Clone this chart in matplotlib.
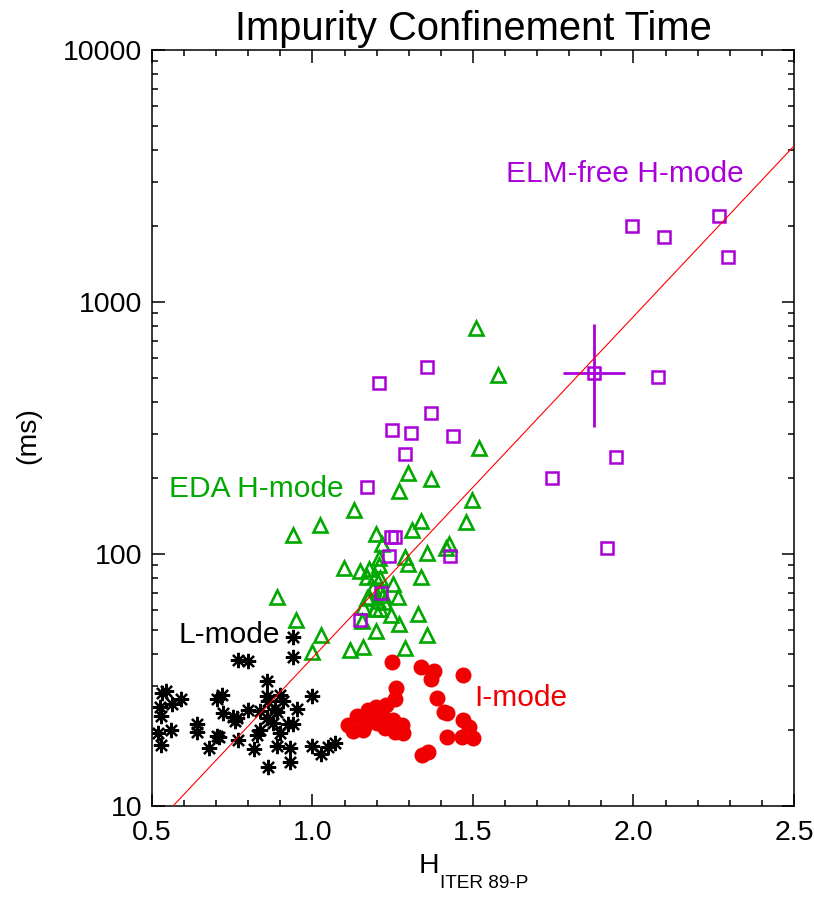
import numpy as np
import matplotlib.pyplot as plt
from matplotlib.ticker import (FixedLocator, FixedFormatter, MultipleLocator,
                               LogLocator, NullFormatter, FormatStrFormatter)

plt.rcParams['font.family'] = ['Liberation Sans', 'DejaVu Sans']

# L-mode (black asterisks)
lmode_h = [0.938, 0.938, 0.769, 0.800, 0.859, 0.530, 0.543, 0.589, 0.561, 0.702,
           0.719, 0.525, 0.527, 0.859, 0.862, 0.899, 0.909, 0.997, 0.722, 0.753,
           0.764, 0.759, 0.800, 0.836, 0.883, 0.888, 0.951, 0.857, 0.878, 0.925,
           0.940, 0.639, 0.639, 0.520, 0.558, 0.836, 0.826, 0.899, 0.702, 0.709,
           0.769, 0.528, 0.679, 0.819, 0.888, 0.930, 0.997, 1.026, 1.049, 1.070,
           0.860, 0.930]
lmode_tau = [46.7, 39.1, 38.0, 37.7, 31.4, 28.0, 28.6, 26.6, 25.4, 26.6,
             27.6, 24.6, 22.8, 27.2, 26.1, 27.6, 26.2, 27.4, 23.3, 22.5,
             22.3, 21.8, 24.0, 23.9, 24.2, 23.6, 24.2, 22.3, 21.3, 21.2,
             21.2, 21.2, 19.7, 19.4, 20.0, 20.0, 19.1, 19.5, 19.0, 18.7,
             18.3, 17.5, 17.0, 16.8, 17.3, 17.0, 17.3, 16.1, 17.1, 17.7,
             14.3, 15.0]

# EDA H-mode (green triangles)
eda_h = [1.508, 1.578, 1.519, 1.368, 1.298, 1.269, 1.498, 1.129, 1.022, 0.938,
         1.338, 1.309, 1.477, 1.198, 1.218, 1.426, 1.417, 1.358, 1.288, 1.298,
         1.208, 1.207, 1.098, 1.147, 1.176, 1.169, 1.195, 1.210, 1.338, 1.250,
         1.189, 1.210, 1.221, 1.177, 1.169, 1.267, 1.205, 1.223, 1.158, 1.195,
         1.210, 1.245, 1.328, 1.155, 1.269, 1.197, 1.358, 1.027, 1.118, 1.158,
         1.288, 0.998, 0.888, 0.949]
eda_tau = [786, 513, 263, 198, 209, 177, 164, 149, 130, 119,
           135, 124, 134, 119.5, 110, 110, 106, 101, 97.3, 90.9,
           96.1, 90.4, 88.0, 85.4, 87.0, 81.3, 81.8, 80.1, 80.7, 75.9,
           73.1, 70.9, 68.8, 67.7, 66.7, 67.3, 65.3, 64.7, 61.4, 60.3,
           60.3, 57.3, 57.8, 54.4, 52.7, 49.3, 47.9, 47.6, 41.6, 42.9,
           42.3, 40.7, 67.7, 54.7]

# ELM-free H-mode (purple squares)
elmfree_h = [1.996, 2.095, 2.265, 2.295, 1.877, 2.076, 1.358, 1.208, 1.368, 1.249,
             1.308, 1.438, 1.288, 1.169, 1.747, 1.946, 1.917, 1.244, 1.256, 1.238,
             1.428, 1.213, 1.148]
elmfree_tau = [2002, 1806, 2200, 1504, 521, 502, 551, 476, 364, 311,
               301, 294, 249, 185, 200, 243, 106, 117, 117, 98.2,
               98.2, 70.2, 54.7]

# I-mode (red filled circles)
imode_h = [1.249, 1.338, 1.379, 1.369, 1.468, 1.259, 1.257, 1.387, 1.229, 1.198,
           1.174, 1.410, 1.420, 1.138, 1.112, 1.127, 1.158, 1.200, 1.231, 1.252,
           1.278, 1.257, 1.281, 1.468, 1.488, 1.465, 1.499, 1.418, 1.340, 1.361,
           1.184, 1.210, 1.179, 1.164, 1.226]
imode_tau = [37.4, 35.5, 34.4, 31.8, 33.1, 29.3, 26.5, 26.9, 25.2, 24.6,
             24.0, 23.7, 23.3, 22.8, 21.0, 19.9, 20.0, 21.3, 21.9, 21.9,
             21.0, 19.7, 19.5, 21.9, 20.5, 18.8, 18.6, 18.7, 15.9, 16.3,
             23.0, 22.3, 21.9, 21.0, 20.4]

# representative error bar on the ELM-free data
err_h = 1.877
err_tau = 521
err_dh = 0.098
err_dtau_lo = 201
err_dtau_hi = 297

# fit: log10(tau) = a + b*H
fit_a = 0.234
fit_b = 1.354

GREEN = '#00A800'
PURPLE = '#AA00D8'
RED = '#F00000'

fig = plt.figure(figsize=(8.14, 8.97), dpi=100)
ax = fig.add_axes([0.1867, 0.1015, 0.7887, 0.8428])

ax.plot(lmode_h, lmode_tau, linestyle='none', marker=(8, 2, 0), ms=11,
        mew=1.6, color='black', zorder=3)
ax.plot(eda_h, eda_tau, linestyle='none', marker='^', ms=9.5, mew=1.9,
        mfc='none', mec=GREEN, zorder=3)
ax.plot(elmfree_h, elmfree_tau, linestyle='none', marker='s', ms=8.5, mew=1.8,
        mfc='none', mec=PURPLE, zorder=4)
ax.errorbar([err_h], [err_tau], xerr=[[err_dh], [err_dh]],
            yerr=[[err_dtau_lo], [err_dtau_hi]], fmt='none', ecolor=PURPLE,
            elinewidth=2.0, capsize=0, zorder=4)
ax.plot(imode_h, imode_tau, linestyle='none', marker='o', ms=10.5,
        color=RED, mec=RED, zorder=5)

h_fit = np.linspace(0.5, 2.5, 50)
ax.plot(h_fit, 10 ** (fit_a + fit_b * h_fit), color='red', lw=0.8, zorder=6)

ax.set_yscale('log')
ax.set_xlim(0.5, 2.5)
ax.set_ylim(10, 10000)

ax.xaxis.set_major_locator(MultipleLocator(0.5))
ax.xaxis.set_minor_locator(MultipleLocator(0.1))
ax.xaxis.set_major_formatter(FormatStrFormatter('%.1f'))
ax.yaxis.set_major_locator(FixedLocator([10, 100, 1000, 10000]))
ax.yaxis.set_major_formatter(FixedFormatter(['10', '100', '1000', '10000']))
ax.yaxis.set_minor_locator(LogLocator(base=10, subs=np.arange(2, 10)))
ax.yaxis.set_minor_formatter(NullFormatter())

ax.tick_params(which='both', direction='in', top=True, right=True,
               width=1.1, labelsize=20.5)
ax.tick_params(which='major', length=9)
ax.tick_params(which='minor', length=4.5)
ax.tick_params(axis='x', which='major', pad=10)
ax.tick_params(axis='y', which='major', pad=7)
for s in ax.spines.values():
    s.set_linewidth(1.1)

ax.set_title('Impurity Confinement Time', fontsize=28.7, pad=7)

ax.text(0.5514, 0.8254, 'ELM-free H-mode', transform=ax.transAxes,
        fontsize=21.5, color=PURPLE, va='baseline')
ax.text(0.0265, 0.4087, 'EDA H-mode', transform=ax.transAxes,
        fontsize=21.5, color=GREEN, va='baseline')
ax.text(0.042, 0.2156, 'L-mode', transform=ax.transAxes,
        fontsize=21.5, color='black', va='baseline')
ax.text(0.5016, 0.1323, 'I-mode', transform=ax.transAxes,
        fontsize=21.5, color=RED, va='baseline')

# axis titles
fig.text(0.035, 0.514, '(ms)', rotation=90, fontsize=20.5,
         ha='center', va='center')
fig.text(0.540, 0.0268, 'H', fontsize=20.5, ha='right', va='baseline')
fig.text(0.541, 0.0100, 'ITER 89-P', fontsize=13.7, ha='left', va='baseline')

fig.savefig('out.png', dpi=100)
